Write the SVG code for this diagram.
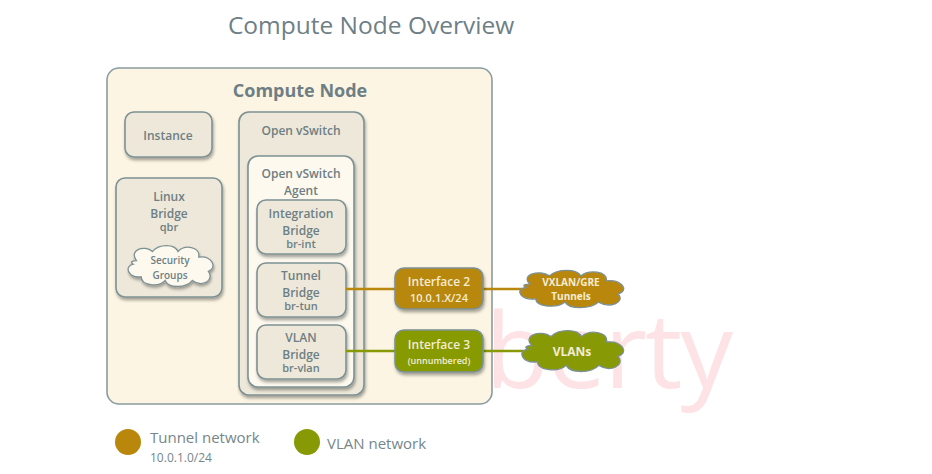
<svg xmlns="http://www.w3.org/2000/svg" width="932" height="474" viewBox="0 0 932 474">
<defs>
<filter id="sh" x="-20%" y="-20%" width="140%" height="150%">
<feDropShadow dx="1" dy="2.5" stdDeviation="1.5" flood-color="#000" flood-opacity="0.35"/>
</filter>
<path id="cloud" vector-effect="non-scaling-stroke" d="M -42,-6 C -52,-18 -32,-24 -22,-16 C -14,-25 6,-25 10,-16 C 18,-24 38,-22 36,-10 C 52,-12 60,2 48,6 C 56,16 40,24 28,16 C 20,25 -2,25 -6,16 C -14,24 -36,22 -36,12 C -52,14 -58,0 -46,-2 C -50,-4 -48,-6 -42,-6 Z"/>
</defs>
<style>
text{font-family:"Open Sans","Liberation Sans",sans-serif;fill:#6d7f84;text-anchor:middle}
.box{fill:#ede8d9;stroke:#7d9194;stroke-width:1.6}
.lt{fill:#fdf9ee}
.t12{font-size:12px;font-weight:600}
.t11{font-size:11px;font-weight:600}
.w{fill:#f4ecd4}
.cl{stroke:#7d9194;stroke-width:1.3}
.tun{stroke:#b8870b;stroke-width:2.6;fill:none}
.vln{stroke:#879a05;stroke-width:2.6;fill:none}
</style>
<rect width="932" height="474" fill="#fff"/>
<text x="371" y="34" style="font-size:24.5px;fill:#6e8086">Compute Node Overview</text>
<text x="485" y="388" style="font-size:105px;letter-spacing:-2px;fill:#fde3e5;text-anchor:start">berty</text>
<g id="compute-node">
<rect x="107" y="68" width="385" height="336" rx="12" fill="#fcf5e3" stroke="#8a9ca0" stroke-width="1.6"/>
<text x="300" y="97" style="font-size:18px;font-weight:700">Compute Node</text>
</g>
<g id="instance">
<rect class="box" x="125" y="112" width="87" height="45" rx="9" filter="url(#sh)"/>
<text class="t12" x="168" y="140">Instance</text>
</g>
<g id="linux-bridge">
<rect class="box" x="116" y="178" width="106" height="119" rx="9" filter="url(#sh)"/>
<text class="t12" x="169" y="201">Linux</text>
<text class="t12" x="169" y="218">Bridge</text>
<text class="t11" x="169" y="231">qbr</text>
</g>
<g id="security-groups">
<use href="#cloud" class="cl" fill="#fdf9ee" transform="translate(170,266) scale(0.8,0.9)" filter="url(#sh)"/>
<text x="170" y="264" style="font-size:10px;font-weight:600">Security</text>
<text x="170" y="279" style="font-size:10px;font-weight:600">Groups</text>
</g>
<g id="open-vswitch">
<rect class="box" x="239" y="112" width="125" height="283" rx="10" filter="url(#sh)"/>
<text class="t12" x="301" y="135">Open vSwitch</text>
</g>
<g id="ovs-agent">
<rect class="box lt" x="248" y="156" width="106" height="231" rx="10" filter="url(#sh)"/>
<text class="t12" x="301" y="178">Open vSwitch</text>
<text class="t12" x="301" y="195">Agent</text>
</g>
<g id="br-int">
<rect class="box" x="257" y="200" width="89" height="54" rx="9" filter="url(#sh)"/>
<text class="t12" x="301" y="218">Integration</text>
<text class="t12" x="301" y="235">Bridge</text>
<text class="t11" x="301" y="248">br-int</text>
</g>
<g id="br-tun">
<rect class="box" x="257" y="263" width="89" height="54" rx="9" filter="url(#sh)"/>
<text class="t12" x="301" y="280">Tunnel</text>
<text class="t12" x="301" y="297">Bridge</text>
<text class="t11" x="301" y="310">br-tun</text>
</g>
<g id="br-vlan">
<rect class="box" x="257" y="325" width="89" height="54" rx="9" filter="url(#sh)"/>
<text class="t12" x="301" y="342">VLAN</text>
<text class="t12" x="301" y="359">Bridge</text>
<text class="t11" x="301" y="372">br-vlan</text>
</g>
<g id="connectors">
<path class="tun" d="M346,289 H395 M483,289 H522"/>
<path class="vln" d="M346,351 H395 M483,351 H524"/>
</g>
<g id="interface-2">
<rect x="395" y="268" width="88" height="41" rx="9" fill="#b8870b" stroke="#7d9194" stroke-width="1.6" filter="url(#sh)"/>
<text class="t12 w" x="439" y="286">Interface 2</text>
<text class="w" x="439" y="302" style="font-size:11px;font-weight:600">10.0.1.X/24</text>
</g>
<g id="interface-3">
<rect x="395" y="330" width="88" height="42" rx="9" fill="#879a05" stroke="#7d9194" stroke-width="1.6" filter="url(#sh)"/>
<text class="t12 w" x="439" y="349">Interface 3</text>
<text class="w" x="439" y="364" style="font-size:9px;font-weight:600">(unnumbered)</text>
</g>
<g id="vxlan-gre">
<use href="#cloud" class="cl" fill="#b8870b" transform="translate(571,289) scale(0.98,0.82)"/>
<text class="w" x="571" y="286" style="font-size:10px;font-weight:700">VXLAN/GRE</text>
<text class="w" x="571" y="300" style="font-size:10px;font-weight:700">Tunnels</text>
</g>
<g id="vlans">
<use href="#cloud" class="cl" fill="#879a05" transform="translate(572,351) scale(0.96,0.9)"/>
<text class="w" x="572" y="356" style="font-size:12px;font-weight:700">VLANs</text>
</g>
<g id="legend">
<circle cx="128" cy="442" r="13" fill="#b8870b"/>
<text x="150" y="443" style="font-size:15px;text-anchor:start;fill:#76868b">Tunnel network</text>
<text x="150" y="462" style="font-size:12px;text-anchor:start;fill:#76868b">10.0.1.0/24</text>
<circle cx="307" cy="442" r="13" fill="#879a05"/>
<text x="327" y="449" style="font-size:15px;text-anchor:start;fill:#76868b">VLAN network</text>
</g>
</svg>
